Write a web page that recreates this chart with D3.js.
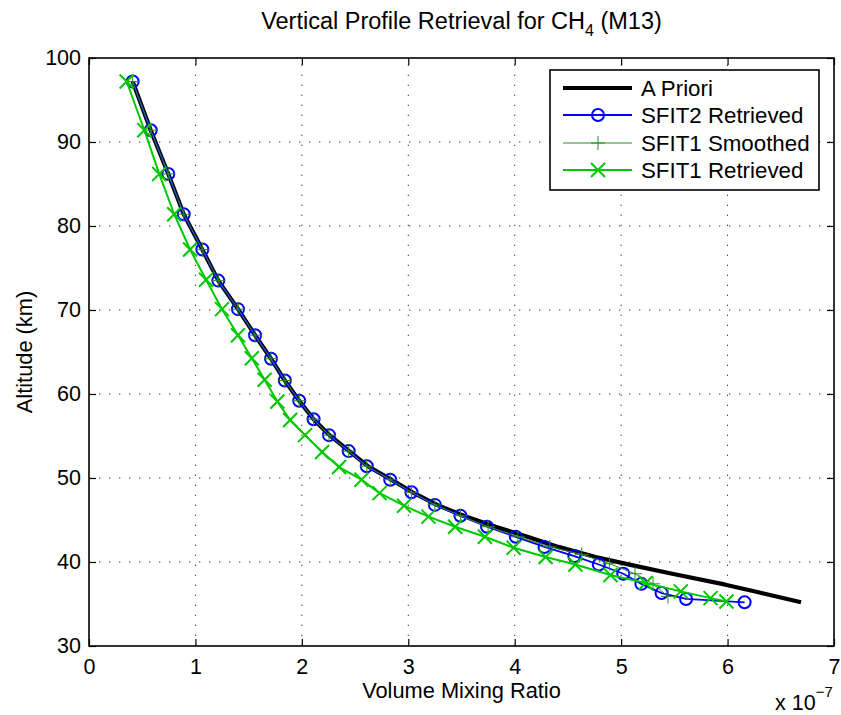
<!DOCTYPE html>
<html>
<head>
<meta charset="utf-8">
<script src="https://cdn.jsdelivr.net/npm/d3@7"></script>
<style>
  html, body { margin: 0; padding: 0; background: #fff; }
  svg { display: block; font-family: "Liberation Sans", Arial, Helvetica, sans-serif; }
</style>
</head>
<body>
<svg id="chart" width="841" height="715"></svg>
<script>
// ---------- data (VMR in units of 1e-7, altitude in km) ----------
const xTicks = [0, 1, 2, 3, 4, 5, 6, 7];
const yTicks = [30, 40, 50, 60, 70, 80, 90, 100];

const sfit2Alt = [97.2, 91.4, 86.2, 81.4, 77.2, 73.5, 70.1, 67.0, 64.2, 61.6, 59.2, 57.0, 55.1, 53.2, 51.4, 49.8, 48.3, 46.8, 45.5, 44.2, 43.0, 41.8, 40.7, 39.7, 38.6, 37.4, 36.3, 35.6, 35.2];
const sfit2Vmr = [0.41, 0.58, 0.745, 0.89, 1.065, 1.215, 1.40, 1.56, 1.71, 1.84, 1.975, 2.11, 2.255, 2.44, 2.61, 2.83, 3.03, 3.25, 3.49, 3.74, 4.01, 4.28, 4.56, 4.79, 5.02, 5.19, 5.38, 5.61, 6.16];

const aprioriAlt = [97.2, 91.4, 86.2, 81.4, 77.2, 73.5, 70.1, 67.0, 64.2, 61.6, 59.2, 57.0, 55.1, 53.2, 51.4, 49.8, 48.3, 46.8, 45.5, 44.2, 43.0, 41.8, 40.6, 39.6, 38.6, 37.3, 36.4, 35.6, 35.2];
const aprioriVmr = [0.41, 0.58, 0.745, 0.89, 1.065, 1.215, 1.40, 1.56, 1.71, 1.84, 1.975, 2.11, 2.26, 2.445, 2.62, 2.84, 3.04, 3.27, 3.52, 3.82, 4.12, 4.41, 4.76, 5.11, 5.48, 5.98, 6.29, 6.56, 6.69];

const smoothAlt = [97.2, 91.4, 86.2, 81.4, 77.2, 73.5, 70.1, 67.0, 64.2, 61.6, 59.2, 57.0, 55.1, 53.2, 51.4, 49.8, 48.3, 46.8, 45.5, 44.2, 43.0, 41.8, 40.9, 39.8, 38.6, 37.4, 35.9];
const smoothVmr = [0.41, 0.58, 0.745, 0.89, 1.065, 1.215, 1.40, 1.56, 1.71, 1.84, 1.975, 2.11, 2.255, 2.44, 2.61, 2.83, 3.03, 3.25, 3.49, 3.75, 4.03, 4.33, 4.63, 4.89, 5.13, 5.30, 5.44];

const sfit1Alt = [97.2, 91.4, 86.2, 81.4, 77.2, 73.6, 70.1, 67.0, 64.25, 61.7, 59.1, 56.9, 55.1, 53.1, 51.3, 49.8, 48.2, 46.7, 45.4, 44.2, 43.0, 41.7, 40.6, 39.7, 38.45, 37.5, 36.5, 35.7, 35.3];
const sfit1Vmr = [0.354, 0.52, 0.66, 0.80, 0.95, 1.10, 1.25, 1.40, 1.53, 1.65, 1.77, 1.89, 2.03, 2.19, 2.35, 2.56, 2.73, 2.96, 3.19, 3.44, 3.72, 3.99, 4.29, 4.57, 4.90, 5.23, 5.56, 5.84, 5.99];

const seriesNames = ["A Priori", "SFIT2 Retrieved", "SFIT1 Smoothed", "SFIT1 Retrieved"];

// ---------- layout ----------
const svg = d3.select("#chart");
const L = 89, R = 834, T = 58, B = 646;
const x = d3.scaleLinear().domain([0, 7]).range([L, R]);
const y = d3.scaleLinear().domain([30, 100]).range([B, T]);

const FS = 21.5;
const LFS = 22.3;
const GREEN = "#00c800";
const DKGREEN = "#2a8a2a";

// grid
const grid = svg.append("g").attr("stroke", "#333").attr("stroke-width", 1).attr("stroke-dasharray", "1.3,8.7");
grid.selectAll(".gx").data(xTicks.slice(1, -1)).enter().append("line")
  .attr("x1", d => x(d)).attr("x2", d => x(d)).attr("y1", B).attr("y2", T);
grid.selectAll(".gy").data(yTicks.slice(1, -1)).enter().append("line")
  .attr("y1", d => y(d)).attr("y2", d => y(d)).attr("x1", L).attr("x2", R);

// axes
function styleAxis(g) {
  g.select(".domain").remove();
  g.selectAll(".tick line").attr("stroke", "#000").attr("stroke-width", 1.2);
  g.selectAll(".tick text").attr("fill", "#000").style("font-size", FS + "px")
    .style("font-family", '"Liberation Sans", Arial, sans-serif');
}
svg.append("g").attr("transform", `translate(0,${B})`)
  .call(d3.axisBottom(x).tickValues(xTicks).tickFormat(d3.format("d")).tickSizeInner(-7).tickSizeOuter(0).tickPadding(13))
  .call(styleAxis);
svg.append("g").attr("transform", `translate(0,${T})`)
  .call(d3.axisTop(x).tickValues(xTicks).tickFormat("").tickSizeInner(-7).tickSizeOuter(0))
  .call(styleAxis);
svg.append("g").attr("transform", `translate(${L},0)`)
  .call(d3.axisLeft(y).tickValues(yTicks).tickFormat(d3.format("d")).tickSizeInner(-7).tickSizeOuter(0).tickPadding(8))
  .call(styleAxis);
svg.append("g").attr("transform", `translate(${R},0)`)
  .call(d3.axisRight(y).tickValues(yTicks).tickFormat("").tickSizeInner(-7).tickSizeOuter(0))
  .call(styleAxis);

// box
svg.append("rect").attr("x", L).attr("y", T).attr("width", R - L).attr("height", B - T)
  .attr("fill", "none").attr("stroke", "#000").attr("stroke-width", 1.6);

// series
const line = d3.line().x(d => x(d[0])).y(d => y(d[1]));
const zip = (a, b) => a.map((v, i) => [v, b[i]]);

const apriori = zip(aprioriVmr, aprioriAlt);
const sfit2 = zip(sfit2Vmr, sfit2Alt);
const smooth = zip(smoothVmr, smoothAlt);
const sfit1 = zip(sfit1Vmr, sfit1Alt);

const plot = svg.append("g");
plot.append("path").datum(apriori).attr("d", line).attr("fill", "none")
  .attr("stroke", "#000").attr("stroke-width", 4.2).attr("stroke-linejoin", "round");

plot.append("path").datum(sfit2).attr("d", line).attr("fill", "none")
  .attr("stroke", "#0000ff").attr("stroke-width", 1.8);
plot.selectAll(".c2").data(sfit2).enter().append("circle")
  .attr("cx", d => x(d[0])).attr("cy", d => y(d[1])).attr("r", 6)
  .attr("fill", "none").attr("stroke", "#0000ff").attr("stroke-width", 2);

plot.append("path").datum(smooth).attr("d", line).attr("fill", "none")
  .attr("stroke", DKGREEN).attr("stroke-width", 1);
function plus(g, cx, cy, s, color, w) {
  g.append("line").attr("x1", cx - s).attr("x2", cx + s).attr("y1", cy).attr("y2", cy).attr("stroke", color).attr("stroke-width", w);
  g.append("line").attr("x1", cx).attr("x2", cx).attr("y1", cy - s).attr("y2", cy + s).attr("stroke", color).attr("stroke-width", w);
}
function cross(g, cx, cy, s, color, w) {
  g.append("line").attr("x1", cx - s).attr("x2", cx + s).attr("y1", cy - s).attr("y2", cy + s).attr("stroke", color).attr("stroke-width", w);
  g.append("line").attr("x1", cx - s).attr("x2", cx + s).attr("y1", cy + s).attr("y2", cy - s).attr("stroke", color).attr("stroke-width", w);
}
smooth.forEach(d => plus(plot, x(d[0]), y(d[1]), 7, DKGREEN, 1));

plot.append("path").datum(sfit1).attr("d", line).attr("fill", "none")
  .attr("stroke", GREEN).attr("stroke-width", 2);
sfit1.forEach(d => cross(plot, x(d[0]), y(d[1]), 7, GREEN, 2));

// legend
const lg = svg.append("g");
lg.append("rect").attr("x", 550).attr("y", 70).attr("width", 269).attr("height", 120)
  .attr("fill", "#fff").attr("stroke", "#000").attr("stroke-width", 1.6);
const rowsY = [88, 115, 143, 170];
const lx1 = 563, lx2 = 632, lmx = 598;
lg.append("line").attr("x1", lx1).attr("x2", lx2).attr("y1", rowsY[0]).attr("y2", rowsY[0]).attr("stroke", "#000").attr("stroke-width", 4.2);
lg.append("line").attr("x1", lx1).attr("x2", lx2).attr("y1", rowsY[1]).attr("y2", rowsY[1]).attr("stroke", "#0000ff").attr("stroke-width", 1.8);
lg.append("circle").attr("cx", lmx).attr("cy", rowsY[1]).attr("r", 6).attr("fill", "none").attr("stroke", "#0000ff").attr("stroke-width", 2);
lg.append("line").attr("x1", lx1).attr("x2", lx2).attr("y1", rowsY[2]).attr("y2", rowsY[2]).attr("stroke", DKGREEN).attr("stroke-width", 1);
plus(lg, lmx, rowsY[2], 7, DKGREEN, 1);
lg.append("line").attr("x1", lx1).attr("x2", lx2).attr("y1", rowsY[3]).attr("y2", rowsY[3]).attr("stroke", GREEN).attr("stroke-width", 2);
cross(lg, lmx, rowsY[3], 7, GREEN, 2);
lg.selectAll(".lt").data(seriesNames).enter().append("text")
  .attr("x", 641).attr("y", (d, i) => rowsY[i]).attr("dy", "0.36em")
  .style("font-size", LFS + "px").attr("fill", "#000").text(d => d);

// title
const title = svg.append("text").attr("x", (L + R) / 2).attr("y", 29).attr("text-anchor", "middle")
  .style("font-size", "23.5px").attr("fill", "#000");
title.append("tspan").text("Vertical Profile Retrieval for CH");
title.append("tspan").attr("dy", 7).style("font-size", "16px").text("4");
title.append("tspan").attr("dy", -7).text(" (M13)");

// axis labels
svg.append("text").attr("x", (L + R) / 2).attr("y", 698).attr("text-anchor", "middle")
  .style("font-size", "21.8px").attr("fill", "#000").text("Volume Mixing Ratio");
svg.append("text").attr("transform", `translate(32,${(T + B) / 2}) rotate(-90)`).attr("text-anchor", "middle")
  .style("font-size", "21.8px").attr("fill", "#000").text("Altitude (km)");

// exponent
const ex = svg.append("text").attr("x", 775).attr("y", 710).style("font-size", FS + "px").attr("fill", "#000");
ex.append("tspan").text("x 10");
ex.append("tspan").attr("dy", -13).style("font-size", "15px").text("−7");
</script>
</body>
</html>
